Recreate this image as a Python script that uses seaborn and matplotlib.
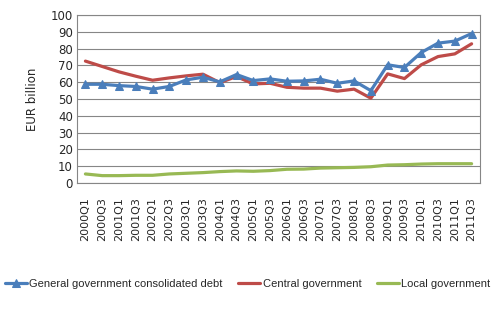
import matplotlib
matplotlib.use("Agg")
import matplotlib.pyplot as plt
import seaborn as sns
import pandas as pd

quarters = ["2000Q1","2000Q3","2001Q1","2001Q3","2002Q1","2002Q3","2003Q1","2003Q3",
            "2004Q1","2004Q3","2005Q1","2005Q3","2006Q1","2006Q3","2007Q1","2007Q3",
            "2008Q1","2008Q3","2009Q1","2009Q3","2010Q1","2010Q3","2011Q1","2011Q3"]
general = [58.8,58.8,58.0,57.5,55.9,57.5,61.4,63.0,60.2,64.6,61.0,62.0,
           60.6,60.8,61.8,59.4,60.8,55.0,70.4,68.8,77.7,83.3,84.5,89.0]
central = [72.6,69.4,66.2,63.6,61.2,62.6,63.8,64.8,59.8,63.4,59.0,59.4,
           57.0,56.5,56.5,54.7,55.9,50.5,65.0,62.2,70.4,75.3,76.9,82.9]
local = [5.4,4.4,4.4,4.6,4.6,5.4,5.8,6.2,6.8,7.2,7.0,7.4,
         8.2,8.3,8.9,9.1,9.3,9.7,10.7,10.9,11.3,11.5,11.5,11.5]
labels = ["General government consolidated debt", "Central government", "Local government"]
colors = ["#4A7EBB", "#BE4B48", "#98B954"]

sns.set_style("white")
plt.rcParams['font.family'] = ['DejaVu Sans']

fig = plt.figure(figsize=(4.95, 3.28), dpi=100)
ax = fig.add_axes([0.1556, 0.442, 0.8141, 0.512])

x = list(range(len(quarters)))
df = pd.DataFrame({"x": x, "general": general, "central": central, "local": local})

sns.lineplot(data=df, x="x", y="general", ax=ax, color=colors[0], lw=2.3,
             marker="^", markersize=6, markeredgecolor=colors[0], label=labels[0], zorder=4)
sns.lineplot(data=df, x="x", y="central", ax=ax, color=colors[1], lw=2.3,
             label=labels[1], zorder=3)
sns.lineplot(data=df, x="x", y="local", ax=ax, color=colors[2], lw=2.3,
             label=labels[2], zorder=3)

ax.set_xlim(-0.5, len(quarters) - 0.5)
ax.set_ylim(0, 100)
ax.set_yticks(range(0, 101, 10))
ax.set_xticks(x)
ax.set_xticklabels(quarters, rotation=90, fontsize=8)
ax.tick_params(axis='y', labelsize=8.5, length=0, pad=3)
ax.tick_params(axis='x', length=0, pad=10)
ax.set_xlabel("")
ax.set_ylabel("EUR billion", fontsize=8.5, labelpad=8)
ax.grid(axis='y', color='#868686', lw=0.8)
ax.set_axisbelow(True)
for s in ax.spines.values():
    s.set_color('#868686')
    s.set_linewidth(0.8)

h, l = ax.get_legend_handles_labels()
ax.legend_.remove()
fig.legend(h, l, loc='center', bbox_to_anchor=(0.5, 0.135), ncol=3, frameon=False,
           prop={'family': 'Liberation Sans', 'size': 8},
           handlelength=2.0, handletextpad=0.2, columnspacing=1.4)

fig.savefig("out.png", dpi=100)
